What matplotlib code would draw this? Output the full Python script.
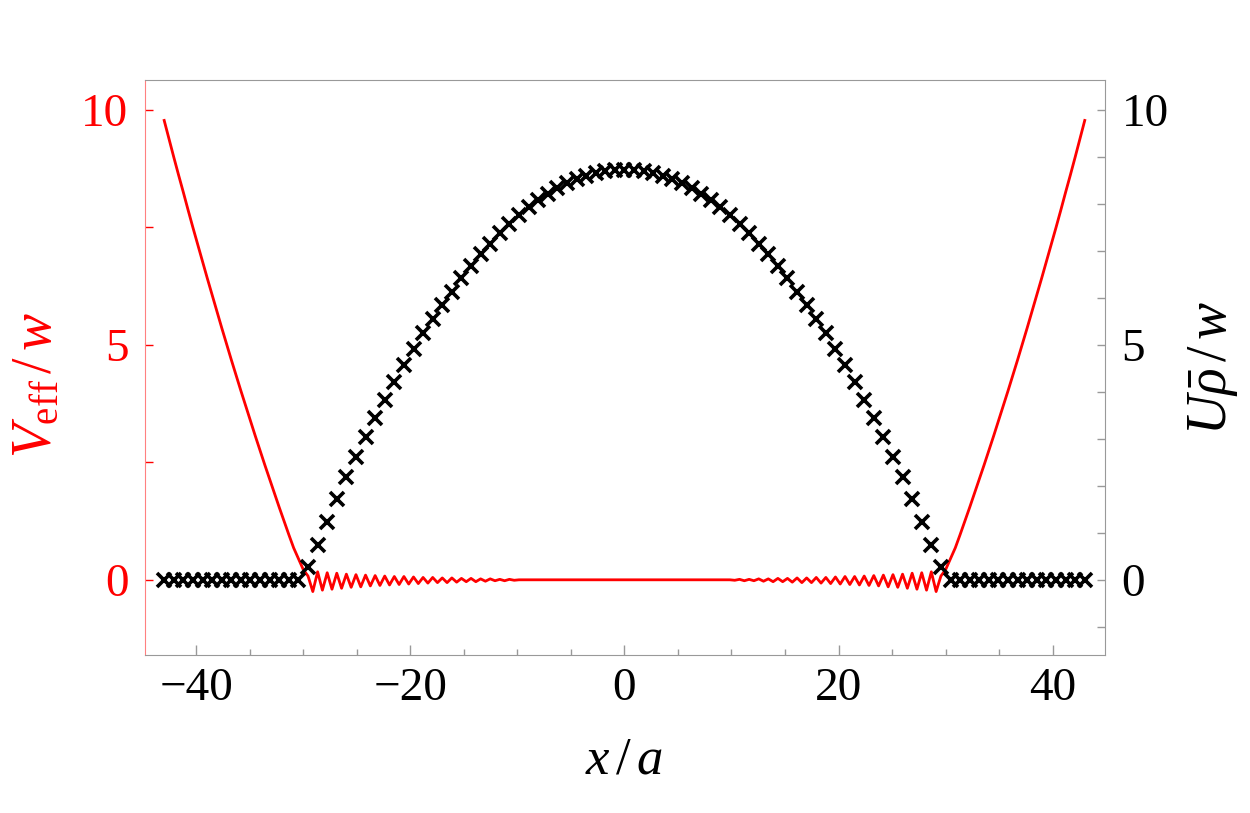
import numpy as np
import matplotlib
matplotlib.use("Agg")
import matplotlib.pyplot as plt
from matplotlib.ticker import FixedLocator

plt.rcParams.update({
    "font.family": "Liberation Serif",
    "mathtext.fontset": "custom",
    "mathtext.rm": "Liberation Serif",
    "mathtext.it": "Liberation Serif:italic",
    "axes.unicode_minus": True,
})

# lattice sites (markers) and half-site grid (red line)
SITE_STEP = 0.896
site_x = np.arange(-48, 49) * SITE_STEP
half_x = np.arange(-96, 97) * SITE_STEP / 2

# U rho / w, sites n = -48 .. 48
density = [
    0, 0, 0, 0, 0, 0, 0, 0, 0, 0, 0, 0, 0, 0, 0,
    0.28, 0.74, 1.22, 1.72, 2.18, 2.61, 3.03, 3.44, 3.83, 4.20, 4.56,
    4.90, 5.24, 5.55, 5.84, 6.13, 6.41, 6.67, 6.92, 7.15, 7.37, 7.57,
    7.75, 7.92, 8.07, 8.21, 8.33, 8.43, 8.52, 8.59, 8.65, 8.69, 8.71,
    8.72,
    8.71, 8.69, 8.65, 8.59, 8.52, 8.43, 8.33, 8.21, 8.07, 7.92, 7.75,
    7.57, 7.37, 7.15, 6.92, 6.67, 6.41, 6.13, 5.84, 5.55, 5.24, 4.90,
    4.56, 4.20, 3.83, 3.44, 3.03, 2.61, 2.18, 1.72, 1.22, 0.74, 0.28,
    0, 0, 0, 0, 0, 0, 0, 0, 0, 0, 0, 0, 0, 0, 0,
]

# V_eff / w on the half-site grid, m = -96 .. 96
veff_outer_left = [
    9.77, 9.38, 8.99, 8.61, 8.24, 7.86, 7.49, 7.13, 6.77, 6.41,
    6.06, 5.71, 5.36, 5.02, 4.68, 4.35, 4.02, 3.70, 3.38, 3.06,
    2.75, 2.44, 2.14, 1.84, 1.54, 1.25, 0.96, 0.68, 0.45, 0.22,
]
veff_ripple_left = [
    0.08, -0.25, 0.17, -0.22, 0.15, -0.20, 0.14, -0.18, 0.12, -0.16,
    0.11, -0.15, 0.10, -0.13, 0.09, -0.12, 0.08, -0.11, 0.07, -0.10,
    0.07, -0.09, 0.06, -0.08, 0.05, -0.07, 0.05, -0.06, 0.04, -0.06,
    0.04, -0.05, 0.03, -0.04, 0.03, -0.04, 0.02, -0.03, 0.02, -0.02,
    0.01, -0.02, 0.01, -0.01, 0.0,
]
veff_middle = [0.0] * 43
veff_ripple_right = [
    0.0, -0.01, 0.01, -0.02, 0.01, -0.02, 0.02, -0.03, 0.02, -0.04,
    0.03, -0.04, 0.03, -0.05, 0.04, -0.06, 0.04, -0.06, 0.05, -0.07,
    0.05, -0.08, 0.06, -0.09, 0.07, -0.10, 0.07, -0.11, 0.08, -0.12,
    0.09, -0.13, 0.10, -0.15, 0.11, -0.16, 0.12, -0.18, 0.14, -0.20,
    0.15, -0.22, 0.17, -0.25, 0.08,
]
veff_outer_right = [
    0.22, 0.45, 0.68, 0.96, 1.25, 1.54, 1.84, 2.14, 2.44, 2.75,
    3.06, 3.38, 3.70, 4.02, 4.35, 4.68, 5.02, 5.36, 5.71, 6.06,
    6.41, 6.77, 7.13, 7.49, 7.86, 8.24, 8.61, 8.99, 9.38, 9.77,
]
veff = (veff_outer_left + veff_ripple_left + veff_middle
        + veff_ripple_right + veff_outer_right)

RED = "#ff0000"
SPINE_RED = "#ff8080"
GRAY = "#999999"


def main():
    fig = plt.figure(figsize=(12.5, 8.13), dpi=100)
    ax = fig.add_axes([0.116, 0.1943, 0.768, 0.7073])
    ax.plot(half_x, veff, color=RED, lw=2.0, zorder=2)

    ax2 = ax.twinx()
    ax2.plot(site_x, density, linestyle="none", marker="x", markersize=9.5,
             markeredgewidth=2.6, color="black", zorder=3)

    for a in (ax, ax2):
        a.set_xlim(-44.8, 44.9)
        a.set_ylim(-1.6, 10.63)

    ax.set_zorder(ax2.get_zorder() - 1)
    ax.patch.set_visible(True)
    ax2.patch.set_visible(False)

    ax.spines["left"].set_color(SPINE_RED)
    for name in ("top", "bottom"):
        ax.spines[name].set_color(GRAY)
    ax.spines["right"].set_visible(False)
    ax2.spines["right"].set_color(GRAY)
    ax2.spines["left"].set_visible(False)
    ax2.spines["top"].set_visible(False)
    ax2.spines["bottom"].set_visible(False)

    ax.set_xticks([-40, -20, 0, 20, 40])
    ax.xaxis.set_minor_locator(FixedLocator(np.arange(-40, 45, 5)))
    ax.set_yticks([0, 5, 10])
    ax.yaxis.set_minor_locator(FixedLocator([2.5, 7.5]))
    ax2.set_yticks([0, 5, 10])
    ax2.yaxis.set_minor_locator(FixedLocator(np.arange(-1, 11, 1)))

    ax.tick_params(axis="x", which="both", direction="in", top=False,
                   colors=GRAY, labelcolor="black", labelsize=34, pad=9)
    ax.tick_params(axis="x", which="major", length=7, width=1)
    ax.tick_params(axis="x", which="minor", length=4, width=1)
    ax.tick_params(axis="y", which="both", direction="in", right=False,
                   colors=RED, labelcolor=RED, labelsize=34, pad=12,
                   length=6, width=1)
    ax2.tick_params(axis="y", which="both", direction="in", colors=GRAY,
                    labelcolor="black", labelsize=34, pad=12, length=6,
                    width=1)

    ax.set_xlabel(r"$x\,/\,a$", fontsize=38)
    ax.xaxis.label.set_verticalalignment("center")
    ax.xaxis.set_label_coords(0.499, -0.183)

    ax.set_ylabel(r"$V_{\mathrm{eff}}\,/\,w$", fontsize=40, color=RED)
    ax.yaxis.label.set_verticalalignment("center")
    ax.yaxis.set_label_coords(-0.112, 0.47)

    ax2.set_ylabel(r"$U\bar{\rho}\,/\,w$", fontsize=40, color="black")
    ax2.yaxis.label.set_verticalalignment("center")
    ax2.yaxis.set_label_coords(1.113, 0.50)

    fig.savefig("out.png", dpi=100)


if __name__ == "__main__":
    main()
